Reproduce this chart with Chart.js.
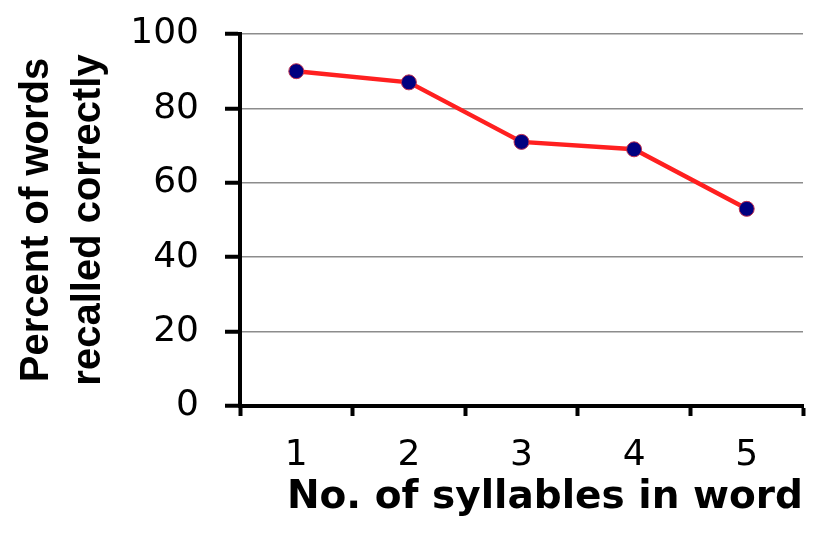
<!DOCTYPE html>
<html>
<head>
<meta charset="utf-8">
<title>Recall by syllables</title>
<script src="https://cdn.jsdelivr.net/npm/chart.js@4/dist/chart.umd.min.js"></script>
<style>
  html, body { margin: 0; padding: 0; background: #fff; }
  #wrap { width: 834px; height: 540px; }
</style>
</head>
<body>
<div id="wrap"><canvas id="chart" width="834" height="540"></canvas></div>
<script>
"use strict";

// ─── Data ──────────────────────────────────────────────────────────────────
const SYLLABLES = ["1", "2", "3", "4", "5"];
const PERCENT_RECALLED = [90, 87, 71, 69, 53];
const Y_TITLE = ["Percent of words", "recalled correctly"];
const X_TITLE = "No. of syllables in word";

// ─── Chart ─────────────────────────────────────────────────────────────────
const ctx = document.getElementById("chart").getContext("2d");

new Chart(ctx, {
  type: "line",
  data: {
    labels: SYLLABLES,
    datasets: [{
      data:            PERCENT_RECALLED,
      borderColor:     "#ff2020",
      borderWidth:     4.5,
      tension:         0,
      pointRadius:     7.5,
      pointBackgroundColor: "#000080",
      pointBorderColor: "#c03050",
      pointBorderWidth: 1,
    }],
  },
  options: {
    responsive: false,
    animation:  false,
    layout: { padding: { top: 34, right: 31, left: 0, bottom: 0 } },
    plugins: {
      legend:  { display: false },
      tooltip: { enabled: false },
    },
    scales: {
      x: {
        type:   "category",
        offset: true,
        border: { display: true, color: "#000", width: 4 },
        grid: {
          drawOnChartArea: false,
          drawTicks:  true,
          tickLength: 10,
          tickColor:  "#000",
          tickWidth:  4,
          offset:     true,
        },
        ticks: {
          color:   "#000",
          padding: 18,
          font:    { family: "'DejaVu Sans', sans-serif", size: 36 },
        },
        title: {
          display: true,
          text:    X_TITLE,
          align:   "end",
          color:   "#000",
          padding: { top: 0, bottom: 19 },
          font:    { family: "'DejaVu Sans', sans-serif", size: 39, weight: "bold" },
        },
        afterFit: scale => {
          scale.height = 134;
          scale.paddingLeft = 0;
          scale.paddingRight = 0;
        },
      },
      y: {
        min: 0,
        max: 100,
        border: { display: true, color: "#000", width: 4 },
        grid: {
          color:      "#8c8c8c",
          lineWidth:  1.5,
          tickLength: 15,
          tickColor:  "#000",
          tickWidth:  4,
        },
        ticks: {
          stepSize: 20,
          color:    "#000",
          padding:  26,
          font:     { family: "'DejaVu Sans', sans-serif", size: 36 },
        },
        title: {
          display: true,
          text:    Y_TITLE,
          color:   "#000",
          padding: { top: 11, bottom: 0 },
          font:    { family: "'Liberation Sans', Arial, sans-serif", size: 40, weight: "bold", lineHeight: 1.3 },
        },
        afterFit: scale => {
          scale.width = 240;
          scale.paddingTop = 0;
          scale.paddingBottom = 0;
        },
      },
    },
  },
});
</script>
</body>
</html>
